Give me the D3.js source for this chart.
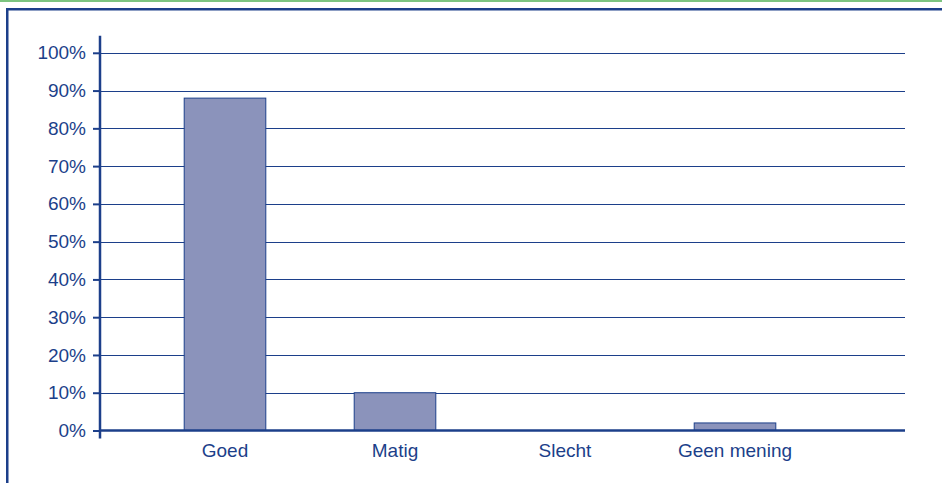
<!DOCTYPE html>
<html>
<head>
<meta charset="utf-8">
<script src="https://cdn.jsdelivr.net/npm/d3@7"></script>
<style>
  body { margin: 0; background: #fff; }
  svg { display: block; font-family: "Liberation Sans", Arial, sans-serif; }
</style>
</head>
<body>
<div id="chart"></div>
<script>
const categories = ['Goed', 'Matig', 'Slecht', 'Geen mening'];
const values = [88, 10, 0, 2];
const tickValues = [0, 10, 20, 30, 40, 50, 60, 70, 80, 90, 100];
const tickLabels = ['0%', '10%', '20%', '30%', '40%', '50%', '60%', '70%', '80%', '90%', '100%'];

const WIDTH = 942, HEIGHT = 483;
const BLUE = '#1c3f8a';
const FONT_SIZE = 19;

const svg = d3.select('#chart')
  .append('svg')
    .attr('width', WIDTH)
    .attr('height', HEIGHT);

// green line on top + blue frame
svg.append('rect')
  .attr('x', 0).attr('y', 0)
  .attr('width', WIDTH).attr('height', 2)
  .attr('fill', '#7cc480');

svg.append('rect')
  .attr('x', 7.25).attr('y', 9.25)
  .attr('width', WIDTH + 20).attr('height', HEIGHT + 20)
  .attr('fill', 'none')
  .attr('stroke', BLUE)
  .attr('stroke-width', 2.5);

const y = d3.scaleLinear()
  .domain([0, 100])
  .range([430.5, 52.8]);

const x = d3.scaleBand()
  .domain(categories)
  .range([140, 820])
  .paddingInner(0.52)
  .paddingOuter(0.26);

const X0 = 100, X1 = 905;

// gridlines
svg.append('g')
  .selectAll('line')
  .data(tickValues.filter(d => d > 0))
  .enter().append('line')
    .attr('x1', X0).attr('x2', X1)
    .attr('y1', d => Math.round(y(d)) + 0.5)
    .attr('y2', d => Math.round(y(d)) + 0.5)
    .attr('stroke', BLUE)
    .attr('stroke-width', 1.2);

// bars
svg.append('g')
  .selectAll('rect')
  .data(values)
  .enter().append('rect')
    .attr('x', (d, i) => x(categories[i]))
    .attr('y', d => y(d))
    .attr('width', x.bandwidth())
    .attr('height', d => y(0) - y(d))
    .attr('fill', '#8b93bb')
    .attr('stroke', BLUE)
    .attr('stroke-width', d => d > 0 ? 1 : 0);

// y axis
const yAxisCall = d3.axisLeft(y)
  .tickValues(tickValues)
  .tickFormat((d, i) => tickLabels[i])
  .tickSize(7)
  .tickPadding(7);

const yAxis = svg.append('g')
  .attr('transform', `translate(${X0}, 0)`)
  .call(yAxisCall);
yAxis.select('.domain').remove();
yAxis.selectAll('.tick line').attr('stroke', BLUE).attr('stroke-width', 2);
yAxis.selectAll('.tick text')
  .attr('fill', BLUE)
  .attr('font-size', FONT_SIZE)
  .attr('font-family', '"Liberation Sans", Arial, sans-serif');

svg.append('line')
  .attr('x1', X0).attr('x2', X0)
  .attr('y1', y(100) - 17).attr('y2', y(0) + 8)
  .attr('stroke', BLUE)
  .attr('stroke-width', 2.5);

// x axis
svg.append('line')
  .attr('x1', X0).attr('x2', X1)
  .attr('y1', y(0)).attr('y2', y(0))
  .attr('stroke', BLUE)
  .attr('stroke-width', 2.5);

svg.append('g')
  .selectAll('text')
  .data(categories)
  .enter().append('text')
    .attr('x', d => x(d) + x.bandwidth() / 2)
    .attr('y', y(0) + 26)
    .attr('text-anchor', 'middle')
    .attr('fill', BLUE)
    .attr('font-size', FONT_SIZE)
    .text(d => d);
</script>
</body>
</html>
